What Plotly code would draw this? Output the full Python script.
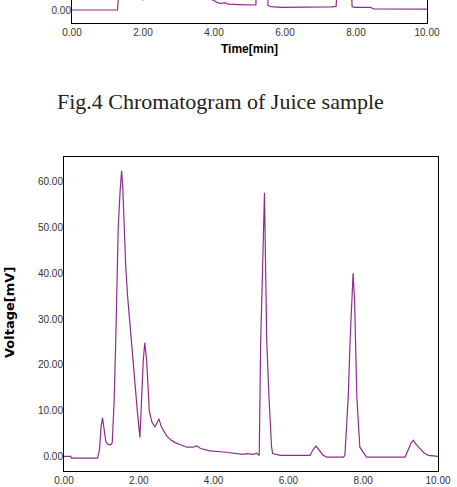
import plotly.graph_objects as go

# ---- lower chromatogram (Fig. 5-style, juice sample continuation) ----
time_min = [0.00, 0.18, 0.20, 0.90, 0.95, 0.99, 1.03, 1.07, 1.12, 1.18, 1.25, 1.29, 1.34, 1.38, 1.41, 1.45,
            1.50, 1.54, 1.57, 1.60, 1.63, 1.65, 1.70, 1.75, 1.80, 1.86, 1.92, 1.97, 2.03, 2.08, 2.12,
            2.16, 2.21, 2.28, 2.35, 2.43, 2.49, 2.54, 2.60, 2.68, 2.75, 2.85, 2.97, 3.10, 3.28, 3.45,
            3.55, 3.65, 3.90, 4.26, 4.50, 4.79, 4.90, 5.06, 5.15, 5.22, 5.24, 5.26, 5.30, 5.33, 5.36,
            5.38, 5.40, 5.42, 5.48, 5.55, 5.58, 5.78, 6.58, 6.66, 6.74, 6.82, 6.92, 7.02, 7.47, 7.51,
            7.60, 7.65, 7.69, 7.73, 7.77, 7.80, 7.83, 7.91, 8.09, 9.12, 9.20, 9.28, 9.34, 9.40, 9.52,
            9.62, 9.74, 10.00]
voltage_mv = [0.0, 0.0, -0.4, -0.4, 1.5, 6.5, 8.4, 6.0, 3.2, 2.6, 2.5, 3.0, 12.0, 24.0, 38.0, 50.0,
              58.0, 62.4, 59.0, 52.0, 47.7, 41.6, 35.0, 30.0, 25.0, 20.0, 15.0, 9.0, 4.1, 13.7, 21.0,
              24.8, 21.0, 10.0, 7.5, 6.4, 7.3, 8.2, 6.5, 5.2, 4.4, 3.6, 3.0, 2.6, 2.0, 2.0,
              2.3, 1.7, 1.2, 0.95, 0.7, 0.45, 0.6, 0.45, 0.7, 0.2, 13.0, 25.4, 37.8, 47.3, 57.6,
              47.0, 37.8, 25.4, 13.0, 2.0, 0.6, 0.2, 0.2, 1.5, 2.25, 1.3, 0.3, -0.15, -0.15, 0.2,
              13.0, 25.4, 34.0, 40.0, 34.0, 25.4, 13.0, 2.0, -0.15, -0.15, 1.2, 2.9, 3.5, 2.8, 1.7,
              0.8, 0.2, 0.0]

# ---- cropped bottom of the previous chromatogram (Fig. 4) ----
top_time = [0.00, 1.28, 1.31, 1.40, 1.60, 1.90, 2.00, 2.10, 2.50, 3.00, 3.50, 3.97, 4.10, 4.20, 4.30,
            4.40, 4.70, 5.00, 5.18, 5.22, 5.40, 5.52, 5.60, 5.90, 6.80, 7.30, 7.44, 7.50, 7.70, 7.89,
            7.95, 8.40, 8.50, 10.00]
top_voltage = [0.0, 0.0, 3.0, 30.0, 60.0, 8.0, 2.1, 20.0, 10.0, 5.0, 3.0, 2.2, 1.6, 1.4, 1.6,
               1.3, 1.2, 1.1, 1.1, 20.0, 50.0, 1.0, 0.75, 0.6, 0.6, 0.7, 0.8, 20.0, 40.0, 0.75,
               0.6, 0.6, 0.25, 0.2]

x_ticks = [0, 2, 4, 6, 8, 10]
x_ticktext = ["0.00", "2.00", "4.00", "6.00", "8.00", "10.00"]
y_ticks = [0, 10, 20, 30, 40, 50, 60]
y_ticktext = ["0.00", "10.00", "20.00", "30.00", "40.00", "50.00", "60.00"]

W, H = 457, 487
line_color = "#8E2D8E"
tick_font = dict(family="Liberation Sans", size=10, color="#333333")

fig = go.Figure()
fig.add_trace(go.Scatter(x=time_min, y=voltage_mv, mode="lines",
                         line=dict(color=line_color, width=1.2), xaxis="x", yaxis="y",
                         showlegend=False, hoverinfo="skip"))
fig.add_trace(go.Scatter(x=top_time, y=top_voltage, mode="lines",
                         line=dict(color=line_color, width=1.2), xaxis="x2", yaxis="y2",
                         showlegend=False, hoverinfo="skip"))

axis_common = dict(showgrid=False, zeroline=False, showline=True, linecolor="black",
                   linewidth=1, ticks="", tickfont=tick_font, automargin=False)

fig.update_layout(
    template="none",
    width=W, height=H, autosize=False,
    margin=dict(l=0, r=0, t=0, b=0, pad=0),
    paper_bgcolor="white", plot_bgcolor="white",
    xaxis=dict(domain=[64 / W, 438 / W], range=[0, 10], tickvals=x_ticks, ticktext=x_ticktext,
               mirror=True, anchor="y", **axis_common),
    yaxis=dict(domain=[16 / H, 330 / H], range=[-3.2, 65.4], tickvals=y_ticks, ticktext=y_ticktext,
               mirror=True, anchor="x", ticklabelstandoff=-2, **axis_common),
    xaxis2=dict(domain=[72 / W, 427 / W], range=[0, 10], tickvals=x_ticks, ticktext=x_ticktext,
                mirror=False, anchor="y2", **axis_common),
    yaxis2=dict(domain=[(H - 23.3) / H, 1], range=[-2.9, 2.19], tickvals=[0], ticktext=["0.00"],
                mirror=True, anchor="x2", ticklabelstandoff=-2, **axis_common),
    annotations=[
        dict(text="<b>Time[min]</b>", x=249 / W, y=1 - 49 / H, xref="paper", yref="paper",
             showarrow=False, xanchor="center", yanchor="middle",
             font=dict(family="Liberation Sans", size=12, color="black")),
        dict(text="Fig.4 Chromatogram of Juice sample", x=220 / W, y=1 - 101 / H,
             xref="paper", yref="paper", showarrow=False, xanchor="center", yanchor="middle",
             font=dict(family="Liberation Serif", size=22, color="#222222")),
        dict(text="<b>Voltage[mV]</b>", x=9 / W, y=1 - 313 / H, xref="paper", yref="paper",
             showarrow=False, xanchor="center", yanchor="middle", textangle=-90,
             font=dict(family="DejaVu Sans", size=13, color="black")),
    ],
)

fig.write_html("out.html")
